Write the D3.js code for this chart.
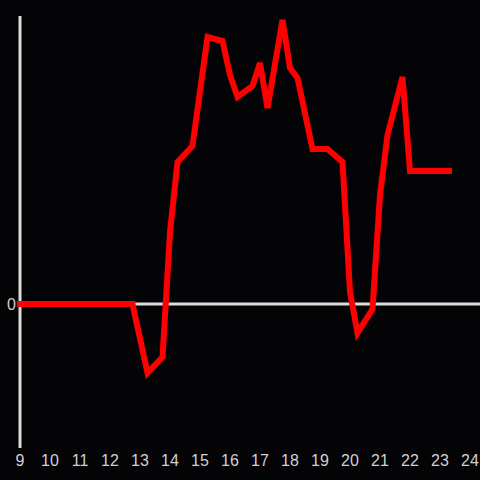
<!DOCTYPE html>
<html>
<head>
<meta charset="utf-8">
<script src="https://cdn.jsdelivr.net/npm/d3@7"></script>
<style>
  html, body { margin: 0; padding: 0; background: #040306; }
  svg { display: block; }
</style>
</head>
<body>
<svg id="chart"></svg>
<script>
// hours of day (decimal) and the value at each vertex of the line
const hours  = [9, 12.75, 13.25, 13.75, 14, 14.25, 14.75, 15.25, 15.75, 16, 16.25, 16.75, 17, 17.25, 17.75, 18, 18.25, 18.75, 19.25, 19.75, 20, 20.25, 20.75, 21, 21.25, 21.75, 22, 23.3];
const values = [0, 0, -69, -53, 72, 142, 158, 267, 263, 229, 207, 218, 241, 196, 284, 236, 226, 155, 155, 142, 12, -29, -5, 109, 169, 227, 133, 133];
const xTicks = d3.range(9, 25);
const yTicks = [0];

const width = 480, height = 480;

const svg = d3.select('#chart')
  .attr('width', width)
  .attr('height', height);

const x = d3.scaleLinear().domain([9, 24]).range([20, 470]);
const y = d3.scaleLinear().domain([-144, 288]).range([448, 16]);

// horizontal zero line
svg.append('line')
  .attr('x1', x(9)).attr('x2', width)
  .attr('y1', y(0)).attr('y2', y(0))
  .attr('stroke', '#dcdcdc')
  .attr('stroke-width', 3);

// vertical axis
svg.append('line')
  .attr('x1', x(9)).attr('x2', x(9))
  .attr('y1', y.range()[1]).attr('y2', y.range()[0])
  .attr('stroke', '#dcdcdc')
  .attr('stroke-width', 3);

// x tick labels
svg.append('g')
  .selectAll('text')
  .data(xTicks)
  .join('text')
    .attr('x', d => x(d))
    .attr('y', 466)
    .attr('text-anchor', 'middle')
    .attr('fill', '#d0d0d0')
    .style('font-family', 'Liberation Sans, Arial, sans-serif')
    .style('font-size', '16px')
    .text(d => d);

// y tick labels
svg.append('g')
  .selectAll('text')
  .data(yTicks)
  .join('text')
    .attr('x', 16)
    .attr('y', d => y(d))
    .attr('dy', '0.35em')
    .attr('text-anchor', 'end')
    .attr('fill', '#d0d0d0')
    .style('font-family', 'Liberation Sans, Arial, sans-serif')
    .style('font-size', '16px')
    .text(d => d);

// the red line
const data = hours.map((h, i) => ({ h: h, v: values[i] }));
const line = d3.line()
  .x(d => x(d.h))
  .y(d => y(d.v));

svg.append('path')
  .datum(data)
  .attr('d', line)
  .attr('fill', 'none')
  .attr('stroke', '#ff0000')
  .attr('stroke-width', 6)
  .attr('stroke-linecap', 'square');
</script>
</body>
</html>
